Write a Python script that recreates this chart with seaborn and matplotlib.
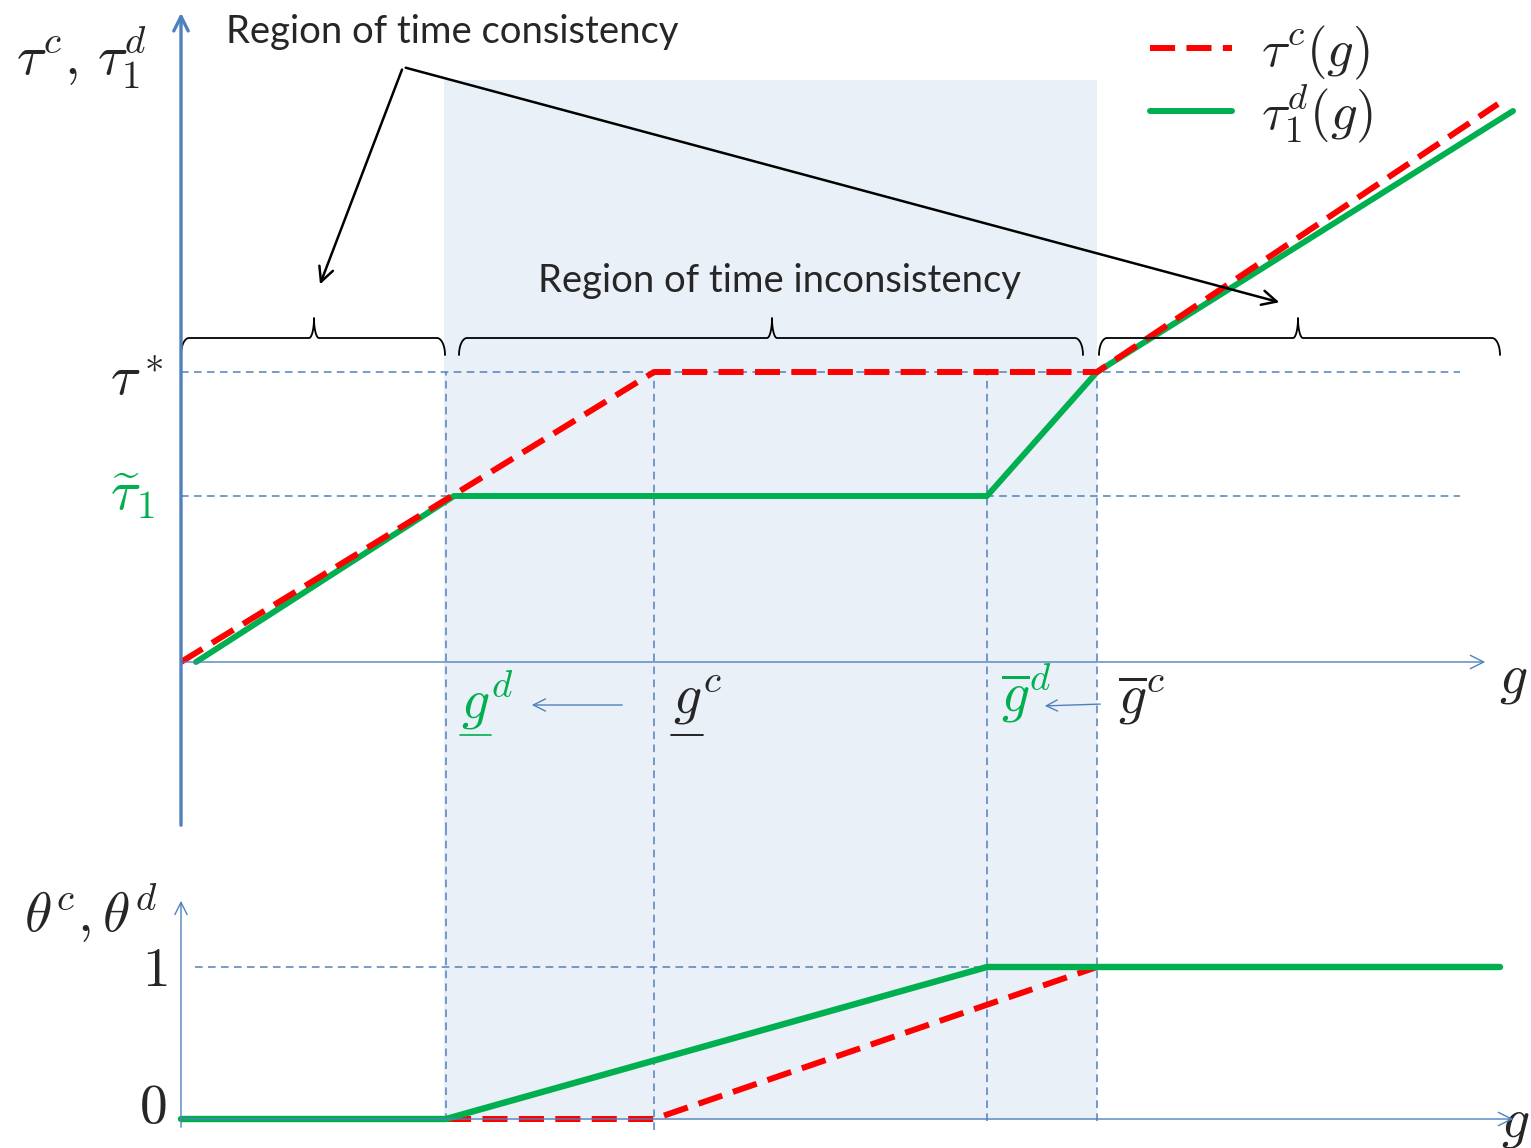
#!/usr/bin/env python3
"""Schematic: time-consistency regions for tau^c, tau_1^d and theta^c, theta^d."""

import matplotlib
matplotlib.use("Agg")
import matplotlib.pyplot as plt
import numpy as np
import pandas as pd
import seaborn as sns
from matplotlib.lines import Line2D
from matplotlib.patches import FancyArrowPatch

W, H = 1531, 1148

# ---- data (g in schematic units) -------------------------------------------
G_D_LOW, G_C_LOW, G_D_BAR, G_C_BAR = 2.65, 4.73, 8.06, 9.16
TAU_STAR, TAU_TILDE = 2.90, 1.66

g_tau_c = [0.0, G_C_LOW, G_C_BAR, 13.17]
tau_c = [0.0, TAU_STAR, TAU_STAR, 5.58]

g_tau_d = [0.15, 2.73, G_D_BAR, G_C_BAR, 13.32]
tau_d = [0.0, TAU_TILDE, TAU_TILDE, TAU_STAR, 5.51]

g_theta_d = [0.0, G_D_LOW, G_D_BAR, 13.19]
theta_d = [0.0, 0.0, 1.0, 1.0]

g_theta_c = [G_D_LOW, G_C_LOW, G_C_BAR, 13.19]
theta_c = [0.0, 0.0, 1.0, 1.0]

RED = "#FF0000"
GREEN = "#00B050"
BLUE = "#4F81BD"
SHADE = "#EAF0F7"
DASH_RED = (4.2, 1.9)
DASH_BLUE = (5, 3.5)
LW = 4.3


def fx(x):
    return x / W


def fy(y):
    return 1 - y / H


def brace(ax, x0, x1, xt, yb=3.24, ye=3.07, yt=3.44, r=0.08, rt=0.05):
    """Curly brace opening downwards, drawn in data units."""
    t = np.linspace(0, np.pi / 2, 15)
    xs = np.concatenate([
        x0 + r - r * np.cos(t),
        xt - rt + rt * np.sin(t),
        xt + rt - rt * np.cos(t),
        x1 - r + r * np.sin(t),
    ])
    ys = np.concatenate([
        ye + (yb - ye) * np.sin(t),
        yb + (yt - yb) * (1 - np.cos(t)),
        yt - (yt - yb) * np.sin(t),
        yb - (yb - ye) * (1 - np.cos(t)),
    ])
    ax.plot(xs, ys, color="black", lw=1.3, solid_capstyle="round", zorder=4)


sns.set_theme(style="white")
plt.rcParams["mathtext.fontset"] = "cm"
plt.rcParams["font.family"] = ["Lato", "DejaVu Sans"]

fig = plt.figure(figsize=(W / 100, H / 100), dpi=100)
split = 830
ax_top = fig.add_axes([0, fy(split), 1, split / H])
ax_bot = fig.add_axes([0, 0, 1, fy(split)])
top_ylim = ((662 - split) / 100, 6.62)
bot_ylim = ((1119 - H) / 152, (1119 - split) / 152)

# curves
top = pd.concat([
    pd.DataFrame({"g": g_tau_d, "v": tau_d, "s": "d"}),
    pd.DataFrame({"g": g_tau_c, "v": tau_c, "s": "c"}),
])
sns.lineplot(data=top[top.s == "d"], x="g", y="v", sort=False, color=GREEN, lw=LW,
             ax=ax_top, zorder=3, estimator=None)
sns.lineplot(data=top[top.s == "c"], x="g", y="v", sort=False, color=RED, lw=LW,
             ax=ax_top, zorder=4, estimator=None)
ax_top.lines[-1].set_dashes(DASH_RED)

sns.lineplot(x=g_theta_c, y=theta_c, sort=False, color=RED, lw=LW, ax=ax_bot, zorder=3,
             estimator=None)
ax_bot.lines[-1].set_dashes(DASH_RED)
sns.lineplot(x=g_theta_d, y=theta_d, sort=False, color=GREEN, lw=LW + 0.3, ax=ax_bot,
             zorder=4, estimator=None)

for ax in (ax_top, ax_bot):
    ax.set_xlim(-1.81, 13.50)
    ax.axis("off")
    ax.patch.set_alpha(0)
ax_top.set_ylim(*top_ylim)
ax_bot.set_ylim(*bot_ylim)

# shaded region of time inconsistency
ax_top.axvspan(2.63, G_C_BAR, ymax=(split - 80) / split, color=SHADE, lw=0, zorder=0)
ax_bot.axvspan(2.63, G_C_BAR, ymin=(H - 1120) / (H - split), color=SHADE, lw=0, zorder=0)

# guide lines
guide = dict(color=BLUE, lw=1.1, dashes=DASH_BLUE, zorder=1)
for lvl in (TAU_STAR, TAU_TILDE):
    ax_top.plot([0, 12.79], [lvl, lvl], **guide)
for gv in (G_D_LOW, G_C_LOW, G_D_BAR, G_C_BAR):
    ax_top.plot([gv, gv], [top_ylim[0], TAU_STAR], **guide)
    ax_bot.plot([gv, gv], [-0.01 if gv != G_C_LOW else -0.07, bot_ylim[1]], **guide)
ax_bot.plot([0.14, G_D_BAR], [1, 1], **guide)

# braces
brace(ax_top, 0.0, 2.64, 1.33)
brace(ax_top, 2.78, 9.02, 5.91)
brace(ax_top, 9.18, 13.19, 11.17)


def arrow(p0, p1, color, lw, ms=18):
    fig.add_artist(FancyArrowPatch(
        (fx(p0[0]), fy(p0[1])), (fx(p1[0]), fy(p1[1])), transform=fig.transFigure,
        arrowstyle="->", mutation_scale=ms, color=color, lw=lw, zorder=6))


# axes
arrow((181, 828), (181, 10), BLUE, 2.4, 26)
arrow((181, 662), (1488, 662), BLUE, 1.0, 24)
arrow((181, 1130), (181, 898), BLUE, 1.0, 22)
arrow((181, 1119), (1516, 1119), BLUE, 1.0, 24)
arrow((625, 705), (529, 705), BLUE, 1.0, 22)
arrow((1103, 704), (1042, 706), BLUE, 1.0, 20)

# callout arrows
arrow((403, 67), (319, 287), "black", 1.8, 26)
arrow((403, 67), (1282, 303), "black", 1.8, 26)

fig.text(fx(226), fy(32), "Region of time consistency", fontsize=27.5, va="center", ha="left")
fig.text(fx(779), fy(281), "Region of time inconsistency", fontsize=27.5, va="center", ha="center")

M = 40
fig.text(fx(82), fy(58), r"$\tau^c,\,\tau_1^d$", fontsize=M, ha="center", va="center")
fig.text(fx(137), fy(380), r"$\tau^*$", fontsize=M, ha="center", va="center")
fig.text(fx(133), fy(495), r"$\widetilde{\tau}_1$", fontsize=M, ha="center", va="center", color=GREEN)
fig.text(fx(91), fy(913), r"$\theta^c,\theta^d$", fontsize=M, ha="center", va="center")
fig.text(fx(155), fy(970), r"$1$", fontsize=M, ha="center", va="center")
fig.text(fx(153), fy(1108), r"$0$", fontsize=M, ha="center", va="center")
fig.text(fx(1513), fy(680), r"$g$", fontsize=M, ha="center", va="center")
fig.text(fx(1515), fy(1125), r"$g$", fontsize=M, ha="center", va="center")

fig.text(fx(487), fy(700), r"$g^d$", fontsize=M, ha="center", va="center", color=GREEN)
fig.text(fx(697), fy(700), r"$g^c$", fontsize=M, ha="center", va="center")
fig.add_artist(Line2D([fx(460), fx(491)], [fy(735), fy(735)], color=GREEN, lw=1.2))
fig.add_artist(Line2D([fx(671), fx(703)], [fy(735), fy(735)], color="black", lw=1.2))
fig.text(fx(1027), fy(693), r"$\overline{g}^d$", fontsize=M, ha="center", va="center", color=GREEN)
fig.text(fx(1142), fy(700), r"$\overline{g}^c$", fontsize=M, ha="center", va="center")

# legend
handles = [
    Line2D([0], [0], color=RED, lw=LW, dashes=DASH_RED),
    Line2D([0], [0], color=GREEN, lw=LW),
]
ax_top.legend(handles, [r"$\tau^c(g)$", r"$\tau_1^d(g)$"], loc="upper left",
              bbox_to_anchor=(fx(1150), fy(24)), bbox_transform=fig.transFigure,
              frameon=False, fontsize=38, handlelength=1.55, labelspacing=0.0,
              handletextpad=0.55, borderpad=0, borderaxespad=0)

fig.savefig("out.png", dpi=100)
plt.close(fig)
